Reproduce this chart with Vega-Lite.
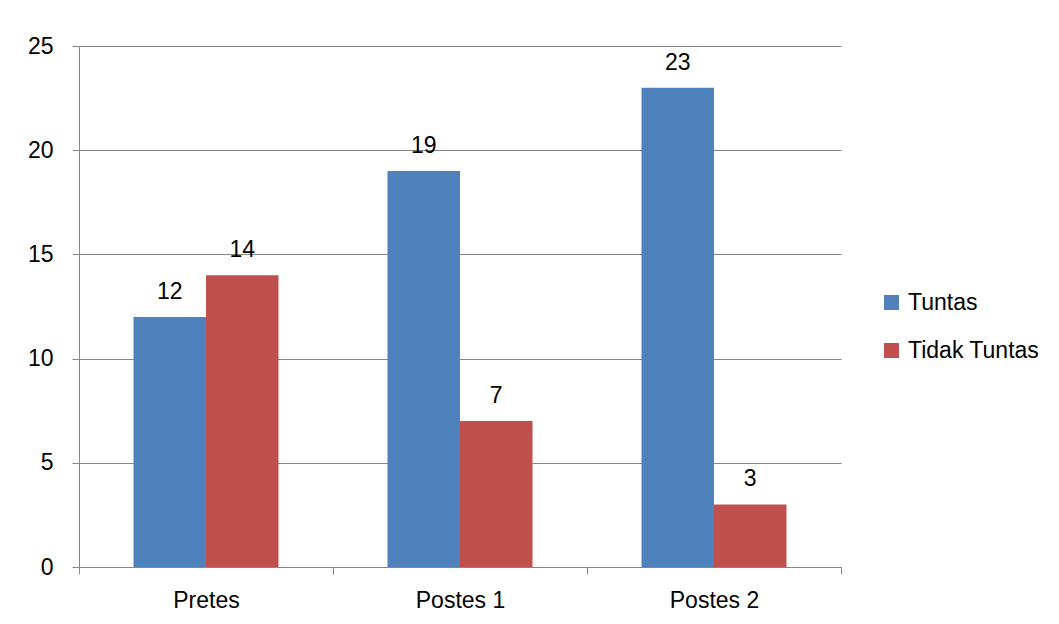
{
  "$schema": "https://vega.github.io/schema/vega-lite/v6.json",
  "width": 762,
  "height": 521,
  "autosize": {"type": "none"},
  "padding": {"left": 79, "top": 46, "right": 218, "bottom": 57},
  "background": "white",
  "config": {
    "view": {"stroke": null},
    "font": "Liberation Sans",
    "axis": {"labelFont": "Liberation Sans", "labelFontSize": 23, "labelColor": "#000000", "domainColor": "#868686", "tickColor": "#868686", "gridColor": "#868686", "title": null}
  },
  "data": {
    "values": [
      {"tes": "Pretes", "status": "Tuntas", "jumlah": 12},
      {"tes": "Pretes", "status": "Tidak Tuntas", "jumlah": 14},
      {"tes": "Postes 1", "status": "Tuntas", "jumlah": 19},
      {"tes": "Postes 1", "status": "Tidak Tuntas", "jumlah": 7},
      {"tes": "Postes 2", "status": "Tuntas", "jumlah": 23},
      {"tes": "Postes 2", "status": "Tidak Tuntas", "jumlah": 3}
    ]
  },
  "encoding": {
    "x": {
      "field": "tes", "type": "nominal", "sort": ["Pretes", "Postes 1", "Postes 2"],
      "scale": {"paddingInner": 0, "paddingOuter": 0},
      "axis": {"labelAngle": 0, "tickBand": "extent", "tickSize": 7, "labelPadding": 15, "domainWidth": 1, "tickWidth": 1}
    },
    "xOffset": {"field": "status", "type": "nominal", "sort": ["Tuntas", "Tidak Tuntas"], "scale": {"paddingInner": 0, "paddingOuter": 0.752}},
    "y": {
      "field": "jumlah", "type": "quantitative",
      "scale": {"domain": [0, 25], "nice": false},
      "axis": {"values": [0, 5, 10, 15, 20, 25], "tickSize": 7, "labelPadding": 19, "grid": true, "gridWidth": 1}
    }
  },
  "layer": [
    {
      "mark": {"type": "bar"},
      "encoding": {
        "color": {
          "field": "status", "type": "nominal", "sort": ["Tuntas", "Tidak Tuntas"],
          "scale": {"domain": ["Tuntas", "Tidak Tuntas"], "range": ["#4F81BD", "#C0504D"]},
          "legend": {
            "title": null, "orient": "none", "legendX": 801, "legendY": 245,
            "symbolType": "square", "symbolSize": 225, "symbolStrokeWidth": 0,
            "labelFontSize": 23, "labelFont": "Liberation Sans", "labelColor": "#000000",
            "labelOffset": 5, "rowPadding": 24
          }
        }
      }
    },
    {
      "mark": {"type": "text", "baseline": "bottom", "dy": -13, "fontSize": 23, "font": "Liberation Sans", "color": "#000000"},
      "encoding": {"text": {"field": "jumlah", "type": "quantitative"}}
    }
  ]
}
